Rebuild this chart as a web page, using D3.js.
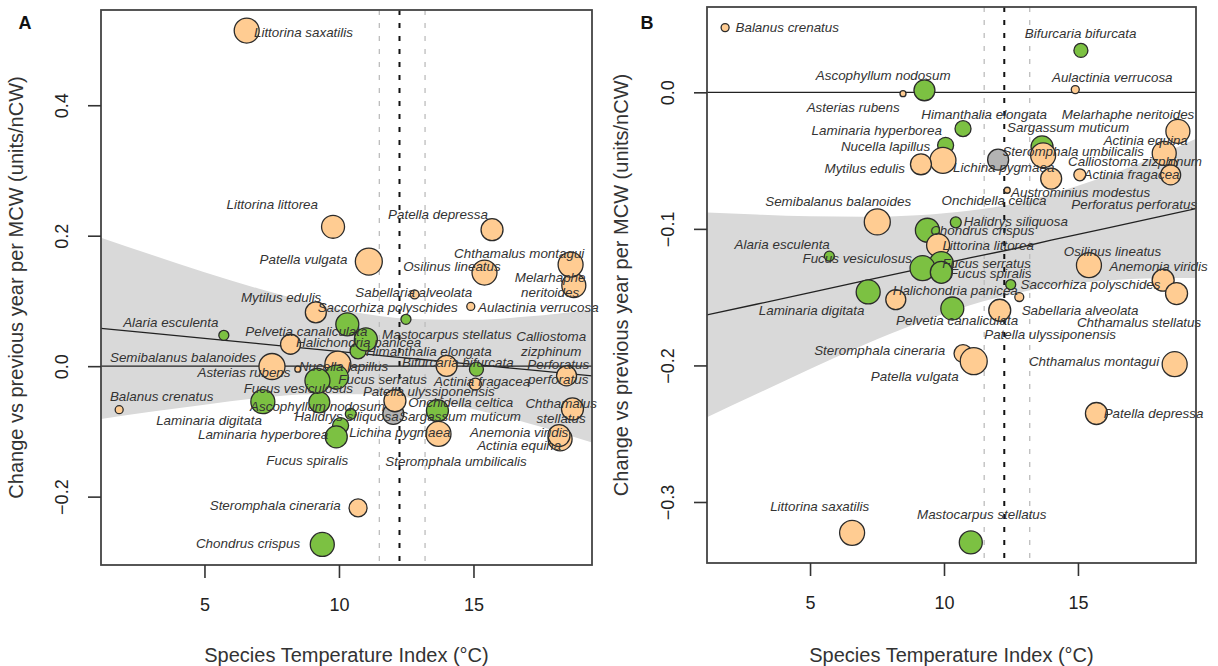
<!DOCTYPE html>
<html>
<head>
<meta charset="utf-8">
<script src="https://cdn.jsdelivr.net/npm/d3@7"></script>
<style>
  body { margin: 0; background: #fff; }
  svg { display: block; font-family: "Liberation Sans", Arial, sans-serif; }
  .lab { font-style: italic; font-size: 13.4px; fill: #333; }
</style>
</head>
<body>
<svg id="chart" width="1218" height="666"></svg>
<script>
// species, in the same order in every array below
const species = ["Balanus crenatus","Bifurcaria bifurcata","Ascophyllum nodosum","Aulactinia verrucosa","Asterias rubens",
  "Himanthalia elongata","Melarhaphe neritoides","Laminaria hyperborea","Sargassum muticum","Nucella lapillus",
  "Actinia equina","Steromphala umbilicalis","Mytilus edulis","Lichina pygmaea","Calliostoma zizphinum",
  "Actinia fragacea","Austrominius modestus","Onchidella celtica","Semibalanus balanoides","Perforatus perforatus",
  "Halidrys siliquosa","Chondrus crispus","Alaria esculenta","Littorina littorea","Osilinus lineatus",
  "Fucus serratus","Fucus vesiculosus","Fucus spiralis","Anemonia viridis","Saccorhiza polyschides",
  "Halichondria panicea","Laminaria digitata","Sabellaria alveolata","Pelvetia canaliculata","Chthamalus stellatus",
  "Patella ulyssiponensis","Steromphala cineraria","Chthamalus montagui","Patella vulgata","Patella depressa",
  "Littorina saxatilis","Mastocarpus stellatus"];

// a = animal, g = alga, l = lichen
const group = ["a","g","g","a","a","g","a","g","g","a","a","a","a","l","a","a","a","a","a","a",
  "g","g","g","a","a","g","g","g","a","g","a","g","a","g","a","a","a","a","a","a","a","g"];

// Species Temperature Index (°C)
const sti = [1.83,15.11,9.27,14.9,8.47,10.71,18.73,10.06,13.66,9.96,18.22,13.7,9.14,12.02,18.55,15.07,12.36,14.0,7.51,18.46,
  10.44,9.38,5.72,9.78,15.41,9.9,9.2,9.9,18.18,12.49,8.2,7.17,12.81,10.31,18.68,12.08,10.71,18.61,11.11,15.69,6.57,11.0];

// records (circle area)
const records = [16,49,110,16,9,64,144,64,121,169,144,156,110,110,16,36,9,110,169,100,
  30,144,25,132,156,144,156,121,121,25,100,144,20,132,121,121,81,156,182,121,156,132];

// change vs previous year per MCW, panel A and panel B
const changeA = [-0.0667,-0.0046,-0.0554,0.0916,-0.0046,0.0234,0.1237,-0.0911,-0.0682,0.0031,-0.1115,-0.1038,0.0824,-0.0733,-0.0046,
  -0.0275,null,0.0005,-0.0005,-0.0148,-0.0733,-0.2733,0.0473,0.2137,0.1435,-0.0168,-0.0224,-0.1084,-0.1064,0.0718,
  0.0336,-0.0545,0.1099,0.0641,-0.0656,-0.053,-0.2173,0.1557,0.1603,0.2092,0.5145,0.0412];
const changeB = [0.0474,0.0307,0.0015,0.002,-0.001,-0.0266,-0.0286,-0.0388,-0.04,-0.0498,-0.0447,-0.0461,-0.0527,-0.0493,-0.0522,
  -0.0604,-0.0717,-0.0632,-0.0949,-0.0604,-0.0952,-0.101,-0.12,-0.112,-0.1266,-0.1254,-0.1288,-0.1318,-0.1376,-0.1408,
  -0.1518,-0.1462,-0.1499,-0.1583,-0.1474,-0.1596,-0.1913,-0.1991,-0.1969,-0.2352,-0.3226,-0.3296];

// where each name sits, in data units (text centre)
const labelA = [[3.41,-0.0458],[14.42,0.0061],[9.2,-0.0611],[17.41,0.0901],[6.47,-0.0092],[13.34,0.0229],[17.85,0.1252],
  [7.18,-0.1053],[14.5,-0.0779],[10.17,0],[16.7,-0.1221],[14.35,-0.1466],[7.85,0.1053],[12.26,-0.1023],[17.89,0.0344],
  [15.32,-0.0229],null,[14.53,-0.055],[4.2,0.0137],[18.15,-0.0084],[10.28,-0.0779],[6.62,-0.2718],[3.75,0.0672],
  [7.52,0.2473],[14.2,0.1527],[11.62,-0.0198],[8.49,-0.0336],[8.82,-0.145],[16.7,-0.1023],[11.81,0.0901],[10.73,0.0366],
  [5.17,-0.084],[12.78,0.113],[8.79,0.0534],[18.26,-0.0672],[13.34,-0.0382],[7.63,-0.2137],[16.7,0.1725],[8.68,0.1634],
  [13.68,0.2321],[8.68,0.5115],[14.01,0.0489]];
const labelB = [[4.15,0.0476],[15.1,0.0432],[7.73,0.0124],[16.28,0.0105],[6.61,-0.0108],[11.5,-0.0163],[16.87,-0.0163],
  [7.49,-0.0278],[14.63,-0.0261],[7.82,-0.0395],[17.53,-0.0351],[14.82,-0.0432],[7.04,-0.0556],[12.23,-0.0547],[17.13,-0.051],
  [17.0,-0.06],[15.1,-0.0737],[11.87,-0.0791],[6.05,-0.0796],[17.1,-0.082],[12.68,-0.0949],[11.43,-0.101],[3.96,-0.1113],
  [11.65,-0.112],[16.29,-0.1169],[11.59,-0.1252],[6.76,-0.1215],[11.74,-0.1327],[18.01,-0.1279],[15.47,-0.1406],[10.42,-0.145],
  [5.06,-0.1596],[15.08,-0.1596],[10.49,-0.1669],[17.28,-0.1689],[13.96,-0.1772],[7.6,-0.1889],[15.6,-0.1974],[8.91,-0.2084],
  [17.82,-0.2352],[5.36,-0.3031],[11.41,-0.3092]];
// names printed on two lines in panel A
const splitA = ["Melarhaphe neritoides","Calliostoma zizphinum","Perforatus perforatus","Chthamalus stellatus"];

// fitted line and confidence band
const bandXA = [1.15,3,5,7,9,11,12.14,13,15,17,19.41];
const fitA   = [0.058,0.0506,0.0426,0.0346,0.0266,0.0186,0.014,0.0106,0.0026,-0.0054,-0.015];
const loA    = [-0.081,-0.07,-0.059,-0.049,-0.043,-0.043,-0.046,-0.05,-0.066,-0.087,-0.117];
const hiA    = [0.197,0.171,0.144,0.119,0.097,0.08,0.074,0.072,0.071,0.076,0.087];
const bandXB = [1.15,3,5,7,9,11,12.75,14,16,18,19.41];
const fitB   = [-0.163,-0.1552,-0.1467,-0.1381,-0.1296,-0.1211,-0.114,-0.1083,-0.0998,-0.0912,-0.0852];
const loB    = [-0.238,-0.221,-0.2026,-0.1851,-0.1692,-0.1557,-0.147,-0.1421,-0.1379,-0.1362,-0.136];
const hiB    = [-0.088,-0.0895,-0.0908,-0.0911,-0.09,-0.0865,-0.081,-0.0745,-0.0617,-0.0462,-0.034];

// vertical reference lines (°C): lower, mean, upper
const refLines = [11.5, 12.25, 13.2];

const ticksX = [5, 10, 15];
const ticksYA = [-0.2, 0, 0.2, 0.4];
const ticksYB = [-0.3, -0.2, -0.1, 0];

const fillOf = { a: "#ffcc92", g: "#7cc142", l: "#b3b3b3" };

function padded(vals) {
  const [lo, hi] = d3.extent(vals.filter(v => v != null));
  const p = (hi - lo) * 0.04;
  return [lo - p, hi + p];
}

const svg = d3.select("#chart");
const r = d3.scaleSqrt().domain([0, 196]).range([0, 14]);
const fmt = v => (v < 0 ? "\u2212" : "") + Math.abs(v).toFixed(1);

const panels = [
  { key: "A", left: 101, right: 592, top: 10, bottom: 565, change: changeA, labels: labelA,
    bx: bandXA, fit: fitA, lo: loA, hi: hiA, ticksY: ticksYA, letterX: 25, titleX: 16, split: true },
  { key: "B", left: 707, right: 1196, top: 7, bottom: 563, change: changeB, labels: labelB,
    bx: bandXB, fit: fitB, lo: loB, hi: hiB, ticksY: ticksYB, letterX: 647, titleX: 621, split: false }
];

panels.forEach(p => {
  const x = d3.scaleLinear().domain(padded(sti)).range([p.left, p.right]);
  const y = d3.scaleLinear().domain(padded(p.change)).range([p.bottom, p.top]);
  const g = svg.append("g");

  g.append("clipPath").attr("id", "clip" + p.key)
    .append("rect").attr("x", p.left).attr("y", p.top)
    .attr("width", p.right - p.left).attr("height", p.bottom - p.top);
  const inner = g.append("g").attr("clip-path", `url(#clip${p.key})`);

  const band = p.bx.map((v, i) => ({ x: v, fit: p.fit[i], lo: p.lo[i], hi: p.hi[i] }));
  inner.append("path").datum(band)
    .attr("fill", "#d9d9d9")
    .attr("d", d3.area().curve(d3.curveMonotoneX).x(d => x(d.x)).y0(d => y(d.lo)).y1(d => y(d.hi)));

  // reference lines
  refLines.forEach((v, i) => {
    inner.append("line")
      .attr("x1", x(v)).attr("x2", x(v)).attr("y1", p.top).attr("y2", p.bottom)
      .attr("stroke", i === 1 ? "#111" : "#bdbdbd")
      .attr("stroke-width", i === 1 ? 2 : 1.3)
      .attr("stroke-dasharray", "5,8");
  });
  inner.append("line")
    .attr("x1", p.left).attr("x2", p.right).attr("y1", y(0)).attr("y2", y(0))
    .attr("stroke", "#222").attr("stroke-width", 1.3);
  inner.append("path").datum(band)
    .attr("fill", "none").attr("stroke", "#222").attr("stroke-width", 1.3)
    .attr("d", d3.line().x(d => x(d.x)).y(d => y(d.fit)));

  const pts = species.map((s, i) => ({
    name: s, grp: group[i], x: sti[i], y: p.change[i], n: records[i], lab: p.labels[i]
  })).filter(d => d.y != null);

  g.selectAll("circle").data(pts).join("circle")
    .attr("cx", d => x(d.x)).attr("cy", d => y(d.y)).attr("r", d => r(d.n))
    .attr("fill", d => fillOf[d.grp]).attr("stroke", "#2b2b2b").attr("stroke-width", 1.3);

  const txt = g.selectAll("text.lab").data(pts.filter(d => d.lab)).join("text")
    .attr("class", "lab")
    .attr("text-anchor", "middle")
    .attr("dominant-baseline", "central");
  txt.each(function (d) {
    const t = d3.select(this);
    const cx = x(d.lab[0]), cy = y(d.lab[1]);
    if (p.split && splitA.includes(d.name)) {
      d.name.split(" ").forEach((w, k) => {
        t.append("tspan").attr("x", cx).attr("y", cy + (k === 0 ? -7.5 : 7.5)).text(w);
      });
    } else {
      t.attr("x", cx).attr("y", cy).text(d.name);
    }
  });

  // box
  g.append("rect").attr("x", p.left).attr("y", p.top)
    .attr("width", p.right - p.left).attr("height", p.bottom - p.top)
    .attr("fill", "none").attr("stroke", "#444").attr("stroke-width", 1.8);

  // axes
  const ax = g.append("g").attr("transform", `translate(0,${p.bottom})`)
    .call(d3.axisBottom(x).tickValues(ticksX).tickSize(13).tickSizeOuter(0).tickFormat(d3.format("d")));
  ax.select(".domain").remove();
  ax.selectAll("line").attr("stroke", "#333").attr("stroke-width", 1.6);
  ax.selectAll("text").attr("y", 40).attr("dy", "0.35em")
    .attr("font-size", 18).attr("fill", "#222").attr("font-family", "Liberation Sans, Arial, sans-serif");

  const ay = g.append("g").attr("transform", `translate(${p.left},0)`)
    .call(d3.axisLeft(y).tickValues(p.ticksY).tickSize(13).tickSizeOuter(0).tickFormat(fmt));
  ay.select(".domain").remove();
  ay.selectAll("line").attr("stroke", "#333").attr("stroke-width", 1.6);
  ay.selectAll("text")
    .attr("x", 0).attr("y", -39).attr("dy", null)
    .attr("transform", "rotate(-90)")
    .attr("text-anchor", "middle").attr("dominant-baseline", "central")
    .attr("font-size", 18).attr("fill", "#222").attr("font-family", "Liberation Sans, Arial, sans-serif");

  // titles
  g.append("text")
    .attr("x", (p.left + p.right) / 2).attr("y", 655)
    .attr("text-anchor", "middle").attr("dominant-baseline", "central")
    .attr("font-size", 20).attr("fill", "#333")
    .text("Species Temperature Index (\u00b0C)");
  g.append("text")
    .attr("transform", `translate(${p.titleX},${(p.top + p.bottom) / 2}) rotate(-90)`)
    .attr("text-anchor", "middle").attr("dominant-baseline", "central")
    .attr("font-size", 20).attr("fill", "#333")
    .text("Change vs previous year per MCW (units/nCW)");
  g.append("text")
    .attr("x", p.letterX).attr("y", 23)
    .attr("text-anchor", "middle").attr("dominant-baseline", "central")
    .attr("font-size", 18).attr("font-weight", "bold").attr("fill", "#111")
    .text(p.key);
});
</script>
</body>
</html>
